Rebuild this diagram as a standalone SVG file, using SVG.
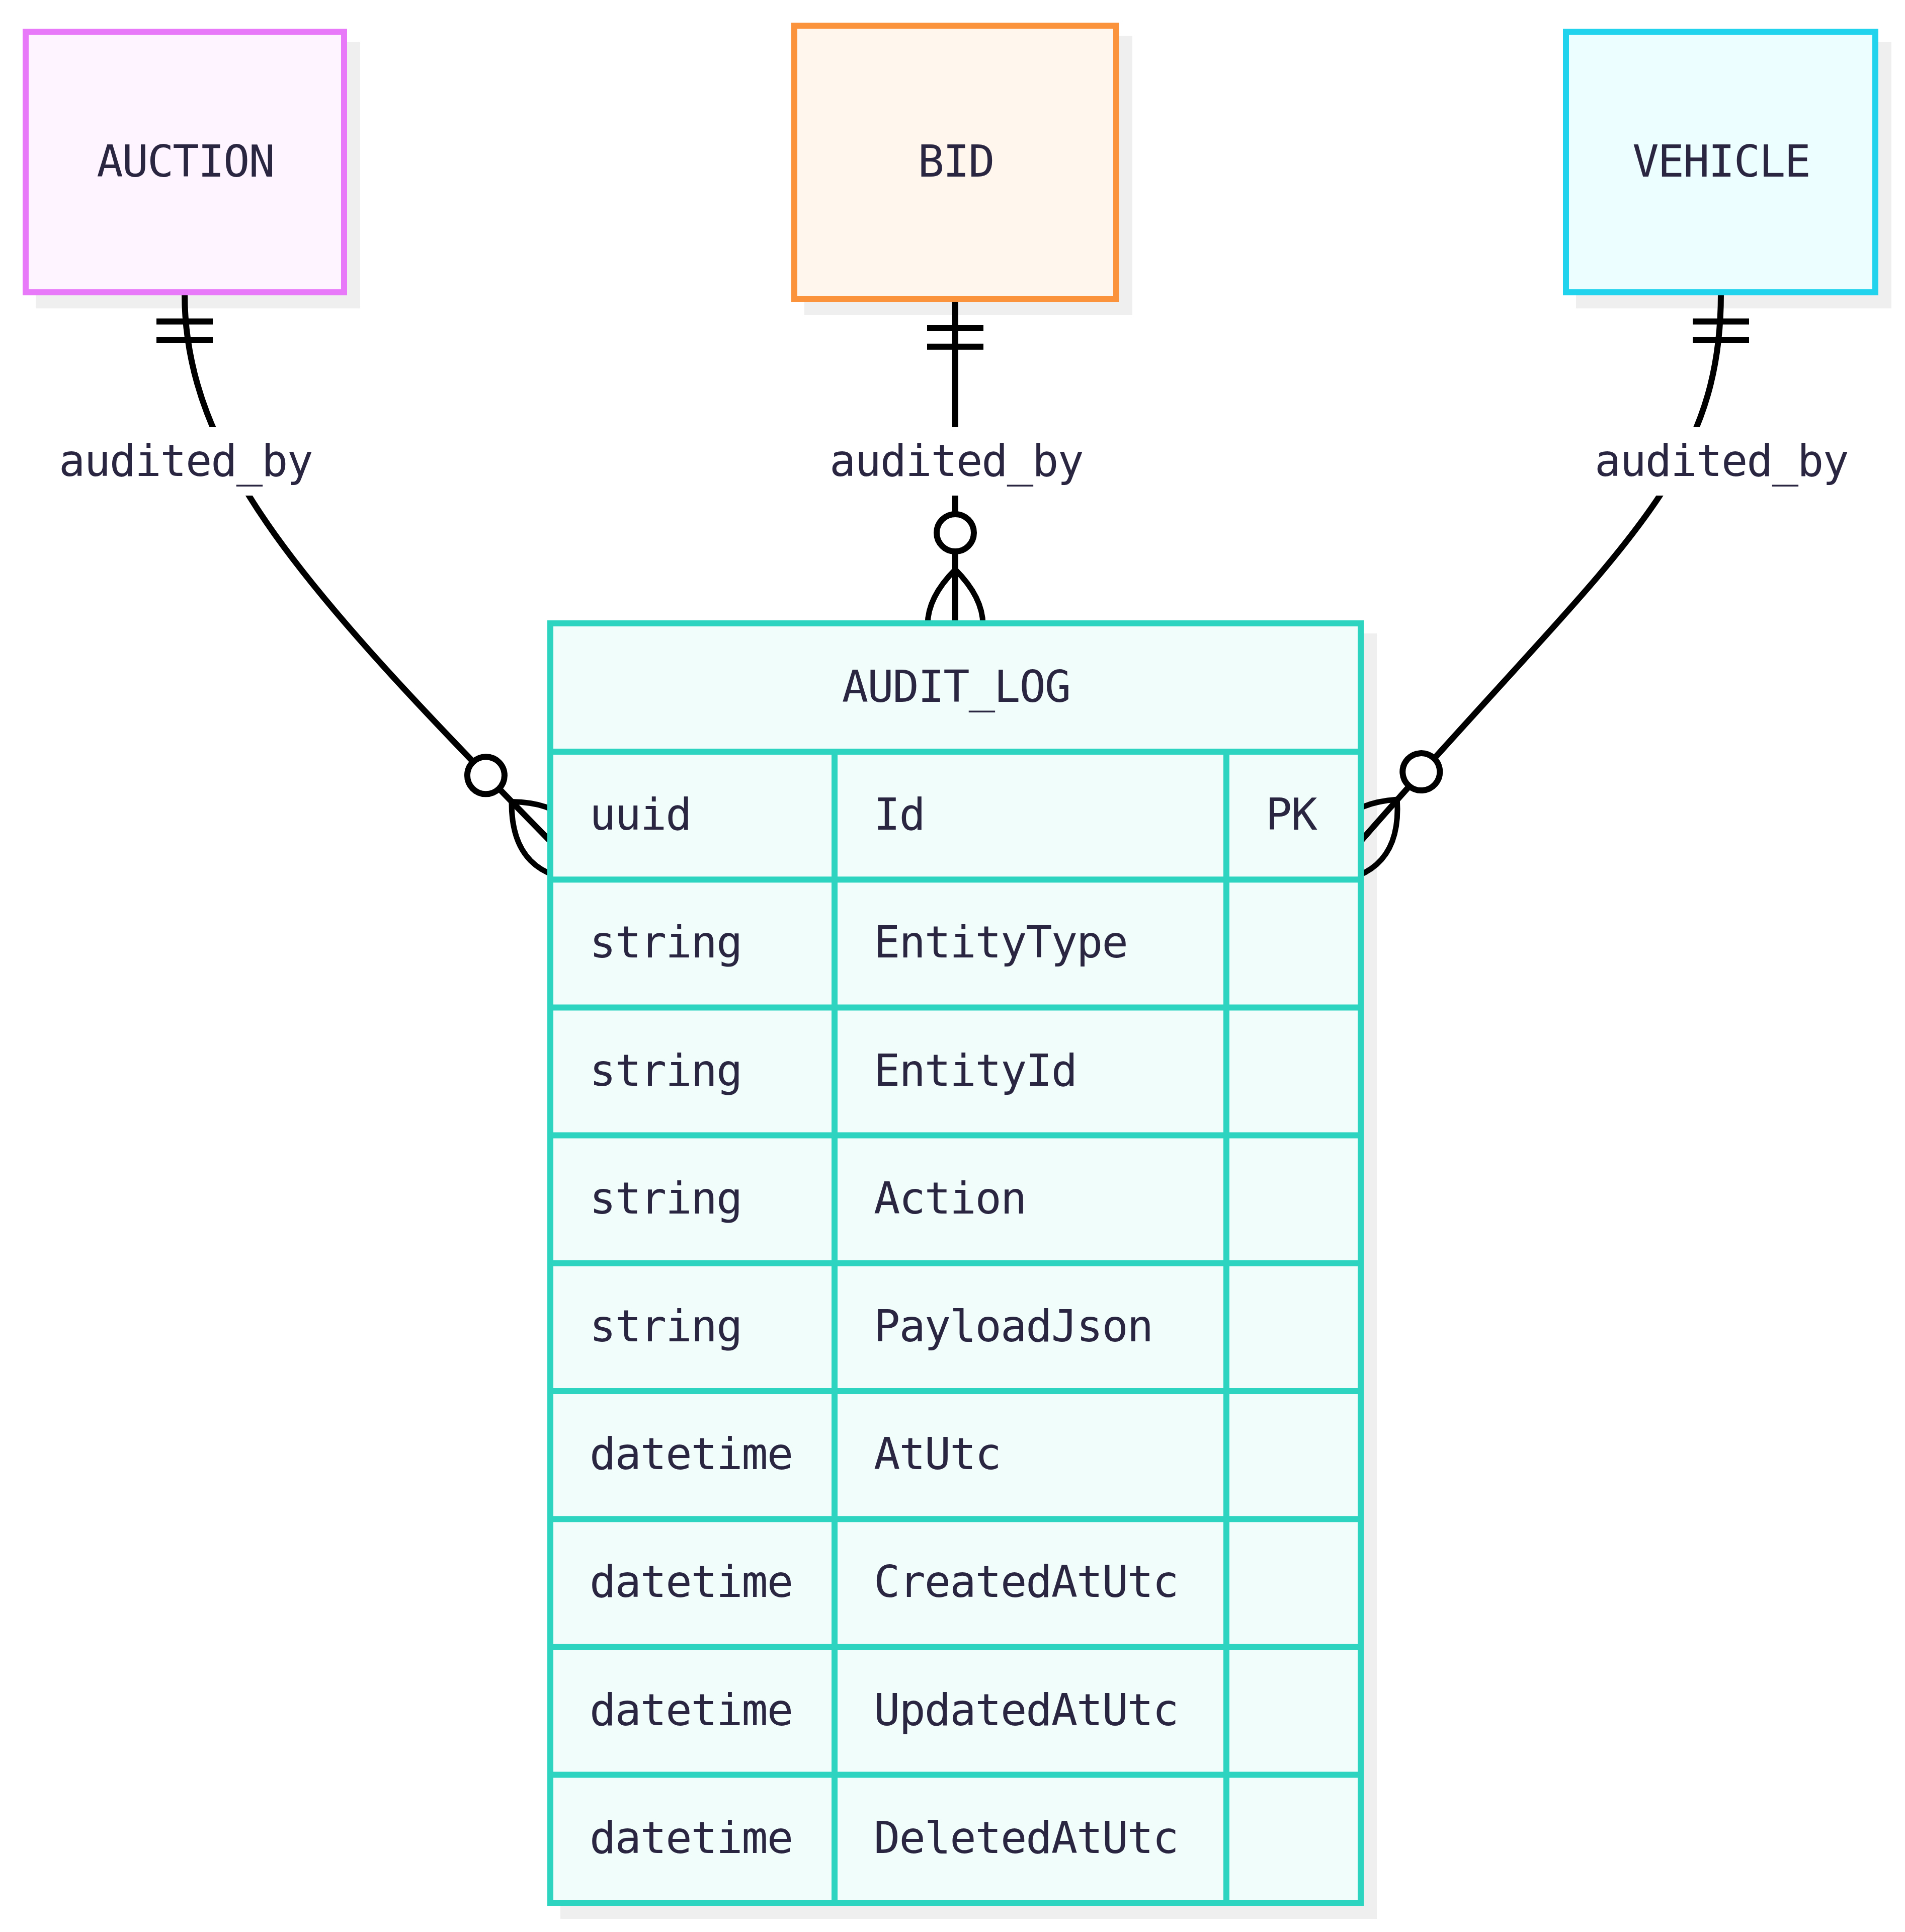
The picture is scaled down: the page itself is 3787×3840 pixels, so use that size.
<svg xmlns="http://www.w3.org/2000/svg" width="3787" height="3840" viewBox="0 0 3787 3840">
<style>
  .shadow { fill: #efefef; }
  .txt { font-family: "DejaVu Sans Mono", "Liberation Mono", monospace; font-size: 87px; letter-spacing: -2px; fill: #2a2540; }
  .mid { text-anchor: middle; }
  .rel { fill: none; stroke: #000; stroke-width: 12; }
  .lblbg { fill: #ffffff; }
  .ent { stroke-width: 12; }
  .grid { stroke: #2dd4bf; stroke-width: 12; fill: none; }
</style>
<defs>
  <marker id="oneStart" markerUnits="userSpaceOnUse" markerWidth="112" markerHeight="112" refX="0" refY="56" orient="auto" overflow="visible">
    <path d="M55,0 L55,112 M92,0 L92,112" stroke="#000" stroke-width="12" fill="none"/>
  </marker>
  <marker id="zeroManyEnd" markerUnits="userSpaceOnUse" markerWidth="350" markerHeight="222" refX="238" refY="110" orient="auto" overflow="visible">
    <circle cx="55" cy="110" r="37" fill="#ffffff" stroke="#000" stroke-width="12"/>
    <path d="M128,110 Q238,0 348,110 Q238,220 128,110" fill="none" stroke="#000" stroke-width="11"/>
  </marker>
</defs>
<rect width="3787" height="3840" fill="#ffffff"/>

<g id="shadows">
  <rect class="shadow" x="71" y="83" width="645" height="530"/>
  <rect class="shadow" x="1599" y="71" width="652" height="555"/>
  <rect class="shadow" x="3133" y="83" width="627" height="530"/>
  <rect class="shadow" x="1114" y="1259" width="1623" height="2555"/>
</g>

<g id="connectors">
  <path class="rel" d="M367,584 C367,910 604,1172 1094,1672" marker-start="url(#oneStart)" marker-end="url(#zeroManyEnd)"/>
  <path class="rel" d="M1899,597 L1899,1242" marker-start="url(#oneStart)" marker-end="url(#zeroManyEnd)"/>
  <path class="rel" d="M3421,584 C3421,960 3204,1100 2705,1672" marker-start="url(#oneStart)" marker-end="url(#zeroManyEnd)"/>
  <g id="label-auction">
    <rect class="lblbg" x="106" y="849" width="524" height="136"/>
    <text class="txt mid" x="369" y="946">audited_by</text>
  </g>
  <g id="label-bid">
    <rect class="lblbg" x="1638" y="849" width="524" height="136"/>
    <text class="txt mid" x="1901" y="946">audited_by</text>
  </g>
  <g id="label-vehicle">
    <rect class="lblbg" x="3159" y="849" width="524" height="136"/>
    <text class="txt mid" x="3422" y="946">audited_by</text>
  </g>
</g>

<g id="AUCTION">
  <rect class="ent" x="51" y="63" width="633" height="518" fill="#fdf4ff" stroke="#e879f9"/>
  <text class="txt mid" x="368.5" y="351">AUCTION</text>
</g>

<g id="BID">
  <rect class="ent" x="1579" y="51" width="640" height="543" fill="#fff7ed" stroke="#fb923c"/>
  <text class="txt mid" x="1900" y="351">BID</text>
</g>

<g id="VEHICLE">
  <rect class="ent" x="3113" y="63" width="615" height="518" fill="#ecfeff" stroke="#22d3ee"/>
  <text class="txt mid" x="3421.5" y="351">VEHICLE</text>
</g>

<g id="AUDIT_LOG">
  <rect x="1094" y="1239" width="1611" height="2543" fill="#f0fdfa" stroke="#2dd4bf" stroke-width="12"/>
  <path class="grid" d="M1094,1494 H2705 M1094,1748.2 H2705 M1094,2002.4 H2705 M1094,2256.6 H2705 M1094,2510.8 H2705 M1094,2765 H2705 M1094,3019.2 H2705 M1094,3273.4 H2705 M1094,3527.6 H2705 M1659,1494 V3782 M2438,1494 V3782"/>
  <text class="txt mid" x="1900.5" y="1395">AUDIT_LOG</text>
  <text class="txt" x="1172" y="1649">uuid</text>
  <text class="txt" x="1737" y="1649">Id</text>
  <text class="txt" x="2516" y="1649">PK</text>
  <text class="txt" x="1172" y="1903.3">string</text>
  <text class="txt" x="1737" y="1903.3">EntityType</text>
  <text class="txt" x="1172" y="2157.5">string</text>
  <text class="txt" x="1737" y="2157.5">EntityId</text>
  <text class="txt" x="1172" y="2411.7">string</text>
  <text class="txt" x="1737" y="2411.7">Action</text>
  <text class="txt" x="1172" y="2665.9">string</text>
  <text class="txt" x="1737" y="2665.9">PayloadJson</text>
  <text class="txt" x="1172" y="2920.1">datetime</text>
  <text class="txt" x="1737" y="2920.1">AtUtc</text>
  <text class="txt" x="1172" y="3174.3">datetime</text>
  <text class="txt" x="1737" y="3174.3">CreatedAtUtc</text>
  <text class="txt" x="1172" y="3428.5">datetime</text>
  <text class="txt" x="1737" y="3428.5">UpdatedAtUtc</text>
  <text class="txt" x="1172" y="3682.7">datetime</text>
  <text class="txt" x="1737" y="3682.7">DeletedAtUtc</text>
</g>
</svg>
